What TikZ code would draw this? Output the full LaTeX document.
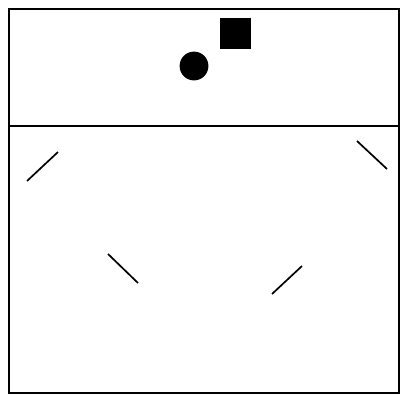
\documentclass[tikz,border=0pt]{standalone}
\usepackage{tikz}

\begin{document}
\begin{tikzpicture}[x=0.025cm, y=-0.025cm]

\useasboundingbox (0,0) rectangle (400,395);

\draw[line width=1.7pt] (9,9) rectangle (399,393);
\draw[line width=1.7pt] (9,126) -- (399,126);

\node[
    fill=black,
    inner sep=0pt,
    minimum size=0.78cm
] (sq) at (235.5,33.5) {};

\node[
    circle,
    fill=black,
    inner sep=0pt,
    minimum size=0.72cm
] (dot) at (194,66) {};

\draw[line width=1.2pt] (27,181) -- (58,152);
\draw[line width=1.2pt] (357,141) -- (387,169);
\draw[line width=1.2pt] (108,254) -- (138,283);
\draw[line width=1.2pt] (272,294) -- (302,266);

\end{tikzpicture}
\end{document}
